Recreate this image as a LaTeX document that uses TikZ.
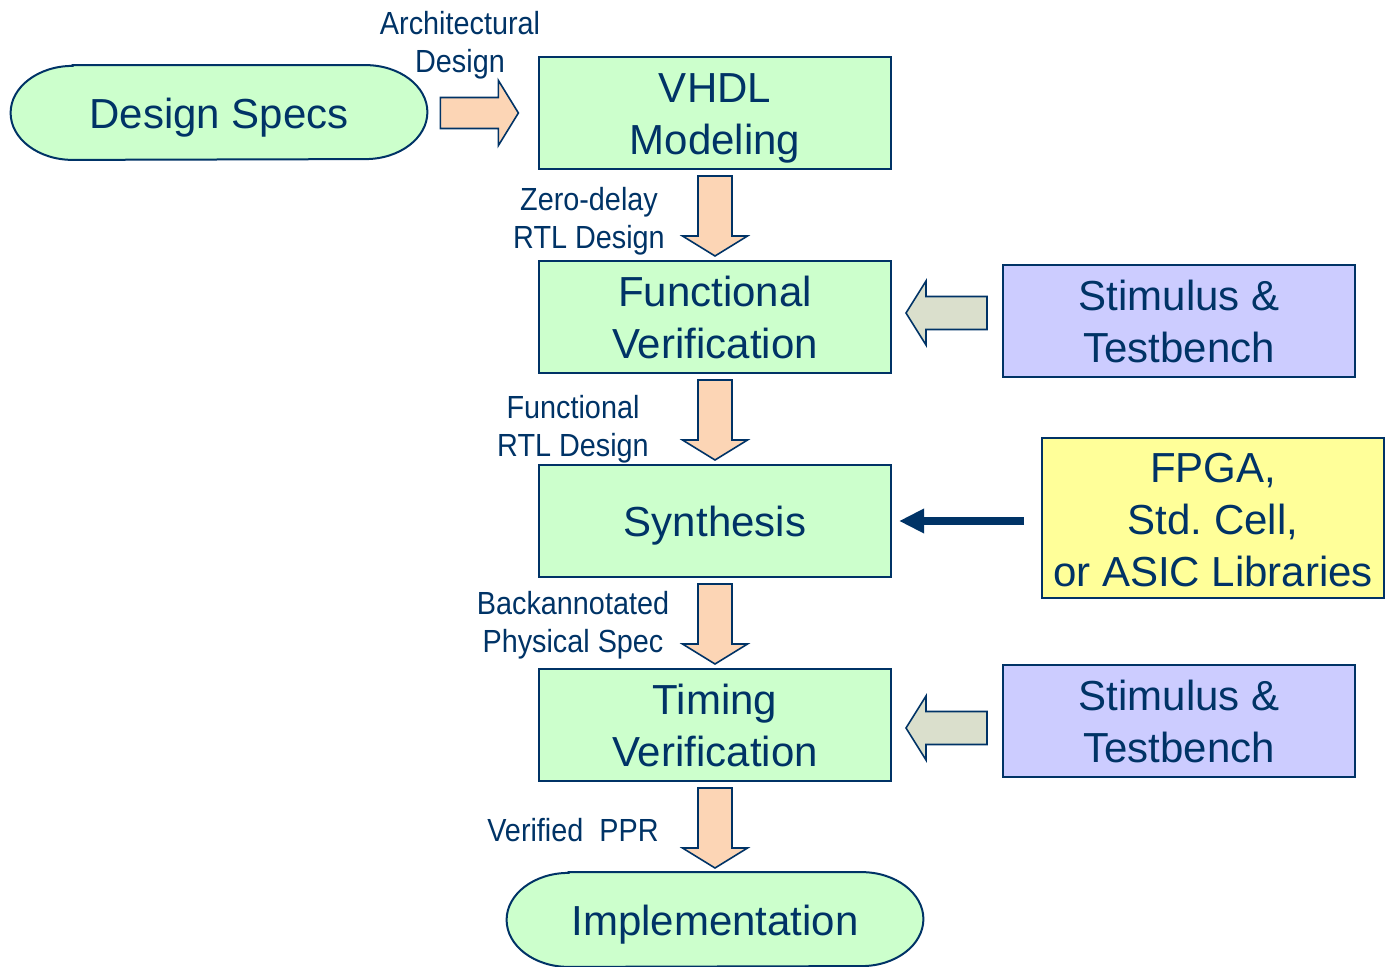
\documentclass[tikz,border=0pt]{standalone}
\usepackage{fontspec}
\setmainfont{Liberation Sans}
\newfontfamily\lblfont[FakeStretch=0.9]{Liberation Sans}
\usetikzlibrary{calc,arrows.meta}
\definecolor{navy}{HTML}{003366}
\definecolor{boxgreen}{HTML}{CCFFCC}
\definecolor{boxblue}{HTML}{CCCCFF}
\definecolor{boxyellow}{HTML}{FFFF99}
\definecolor{peach}{HTML}{FCD5B5}
\definecolor{greyarrow}{HTML}{DADFCC}
\newcommand{\tstrut}{\rule{0pt}{20pt}}
\newcommand{\bstrut}{\rule[-4.4pt]{0pt}{4.4pt}}
\tikzset{
  maintext/.style={font=\fontsize{21pt}{26pt}\selectfont, text=navy, align=center, inner sep=0pt},
  stepbox/.style={maintext, draw=navy, line width=1pt, minimum width=176pt, minimum height=56pt},
  greenbox/.style={stepbox, fill=boxgreen},
  bluebox/.style={stepbox, fill=boxblue},
  pillnode/.style={minimum width=208pt, minimum height=47pt, inner sep=0pt},
  pillshape/.style={draw=navy, line width=1pt, fill=boxgreen},
  lbl/.style={font=\lblfont\fontsize{16pt}{19pt}\selectfont, text=navy, align=center, inner sep=0pt},
  pkarrow/.style={draw=navy, line width=0.8pt, fill=peach, line join=miter},
  gyarrow/.style={draw=navy, line width=0.8pt, fill=greyarrow, line join=miter},
  thinarrow/.style={draw=navy, line width=4pt, -{Triangle[length=12.5pt,width=11.5pt]}}
}
\newcommand{\blkdown}[1]{\draw[pkarrow] (#1) ++(-17,0) -- ++(34,0) -- ++(0,60) -- ++(15.5,0) -- ++(-32.5,20) -- ++(-32.5,-20) -- ++(15.5,0) -- cycle;}
\newcommand{\blkleft}[1]{\draw[gyarrow] (#1) ++(0,-16.5) -- ++(-61,0) -- ++(0,-15.5) -- ++(-20,32) -- ++(20,32) -- ++(0,-15.5) -- ++(61,0) -- cycle;}
\newcommand{\pillpath}[1]{\draw[pillshape] ($(#1.north west)+(62,0)$) -- ($(#1.north east)+(-62,0)$) arc[start angle=-90, end angle=90, x radius=62, y radius=47] -- ($(#1.south west)+(62,0)$) arc[start angle=90, end angle=270, x radius=62, y radius=47] -- cycle;}
\begin{document}
\begin{tikzpicture}[x=0.5pt,y=-0.5pt]
\useasboundingbox (0,0) rectangle (1386,967);
% pills
\node[pillnode] (ds) at (219,112.5) {};
\pillpath{ds}
\node[maintext] (dstext) at (ds.center) {\tstrut Design Specs\bstrut};
\node[pillnode] (impl) at (715,919.5) {};
\pillpath{impl}
\node[maintext] (impltext) at (impl.center) {\tstrut Implementation\bstrut};
% main boxes
\node[greenbox] (vhdl) at (715,113) {\tstrut VHDL\\Modeling\bstrut};
\node[greenbox] (fv) at (715,317) {\tstrut Functional\\Verification\bstrut};
\node[greenbox] (syn) at (715,521) {\tstrut Synthesis\bstrut};
\node[greenbox] (tv) at (715,725) {\tstrut Timing\\Verification\bstrut};
\node[bluebox] (st1) at (1179,321) {\tstrut Stimulus \&\\Testbench\bstrut};
\node[bluebox] (st2) at (1179,721) {\tstrut Stimulus \&\\Testbench\bstrut};
\node[maintext, draw=navy, line width=1pt, fill=boxyellow, minimum width=171pt, minimum height=80pt] (fpga) at (1213,518) {\rule{0pt}{17pt}FPGA,\\Std.\ Cell,\\or ASIC Libraries};
% labels
\node[lbl] (l0) at (460,45) {Architectural\\Design};
\node[lbl] (l1) at (589,221) {Zero-delay\\RTL Design};
\node[lbl] (l2) at (573,429) {Functional\\RTL Design};
\node[lbl] (l3) at (573,625) {Backannotated\\Physical Spec};
\node[lbl] (l4) at (573,830) {Verified~~PPR};
% block arrows
\coordinate (ra) at ($(ds.east)+(13,0.5)$);
\draw[pkarrow] (ra) ++(0,-15.5) -- ++(58,0) -- ++(0,-17) -- ++(20,32.5) -- ++(-20,32.5) -- ++(0,-17) -- ++(-58,0) -- cycle;
\coordinate (d1) at ([yshift=-3pt]vhdl.south);
\coordinate (d2) at ([yshift=-3pt]fv.south);
\coordinate (d3) at ([yshift=-3pt]syn.south);
\coordinate (d4) at ([yshift=-3pt]tv.south);
\blkdown{d1}
\blkdown{d2}
\blkdown{d3}
\blkdown{d4}
\coordinate (g1) at ($(st1.west)+(-15,-8)$);
\coordinate (g2) at ($(st2.west)+(-15,7)$);
\blkleft{g1}
\blkleft{g2}
\draw[thinarrow] ($(fpga.west |- syn.east)+(-17,0)$) -- ($(syn.east)+(7,0)$);
\end{tikzpicture}
\end{document}
